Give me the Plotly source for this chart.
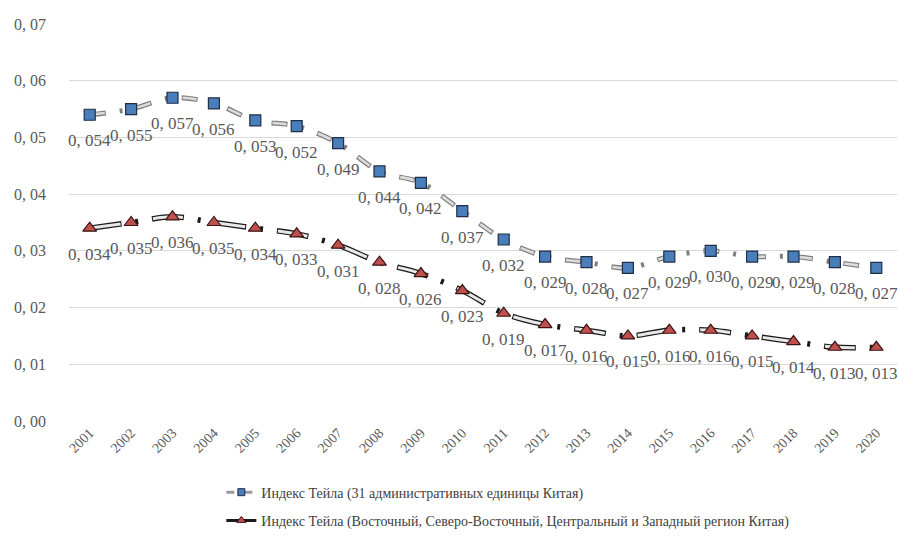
import plotly.graph_objects as go

years = [str(y) for y in range(2001, 2021)]
theil_31 = [0.054, 0.055, 0.057, 0.056, 0.053, 0.052, 0.049, 0.044, 0.042, 0.037,
            0.032, 0.029, 0.028, 0.027, 0.029, 0.030, 0.029, 0.029, 0.028, 0.027]
theil_reg = [0.034, 0.035, 0.036, 0.035, 0.034, 0.033, 0.031, 0.028, 0.026, 0.023,
             0.019, 0.017, 0.016, 0.015, 0.016, 0.016, 0.015, 0.014, 0.013, 0.013]
name_31 = "Индекс Тейла (31 административных единицы Китая)"
name_reg = "Индекс Тейла (Восточный, Северо-Восточный, Центральный и Западный регион Китая)"
y_ticks = [0.0, 0.01, 0.02, 0.03, 0.04, 0.05, 0.06, 0.07]
y_ticktext = ["0, 00", "0, 01", "0, 02", "0, 03", "0, 04", "0, 05", "0, 06", "0, 07"]


def lab(v):
    return "0, %03d" % round(v * 1000)


SERIF = "Times New Roman, Liberation Serif, DejaVu Serif, serif"
TXT = "#595959"

fig = go.Figure()

# series 1: compound grey long-dash-dot line
fig.add_trace(go.Scatter(x=years, y=theil_31, mode="lines", showlegend=False, hoverinfo="skip",
                         line=dict(color="#7f7f7f", width=5, dash="16px,14px,3px,14px", shape="spline")))
fig.add_trace(go.Scatter(x=years, y=theil_31, mode="lines", showlegend=False, hoverinfo="skip",
                         line=dict(color="#dcdcdc", width=2.6, dash="0px,1px,14px,32px", shape="spline")))
# series 2: compound black long-dash-dot line
fig.add_trace(go.Scatter(x=years, y=theil_reg, mode="lines", showlegend=False, hoverinfo="skip",
                         line=dict(color="#1a1a1a", width=5.5, dash="32px,14px,3px,14px", shape="spline")))
fig.add_trace(go.Scatter(x=years, y=theil_reg, mode="lines", showlegend=False, hoverinfo="skip",
                         line=dict(color="#e8e8e8", width=3, dash="0px,1px,30px,32px", shape="spline")))

# markers
fig.add_trace(go.Scatter(x=years, y=theil_31, mode="markers", showlegend=False,
                         marker=dict(symbol="square", size=11, color="#4a7ebb",
                                     line=dict(color="#1f2f45", width=1.2))))
fig.add_trace(go.Scatter(x=years, y=theil_reg, mode="markers", showlegend=False,
                         marker=dict(symbol="triangle-up", size=12, color="#c0504d",
                                     line=dict(color="#3a1515", width=1.2))))

# legend entries
fig.add_trace(go.Scatter(x=[None], y=[None], mode="lines+markers", name=name_31, legendgroup="a",
                         line=dict(color="#9a9a9a", width=3, dash="8px,4px,2px,4px"),
                         marker=dict(symbol="square", size=7, color="#4a7ebb",
                                     line=dict(color="#1f2f45", width=1))))
fig.add_trace(go.Scatter(x=[None], y=[None], mode="lines+markers", name=name_reg, legendgroup="b",
                         line=dict(color="#1a1a1a", width=3),
                         marker=dict(symbol="triangle-up", size=8, color="#c0504d",
                                     line=dict(color="#3a1515", width=1))))

annotations = []
for i, v in enumerate(theil_31):
    annotations.append(dict(x=i, y=v, xref="x", yref="y", text=lab(v), showarrow=False, yshift=-26,
                            font=dict(family=SERIF, size=17, color=TXT)))
for i, v in enumerate(theil_reg):
    annotations.append(dict(x=i, y=v, xref="x", yref="y", text=lab(v), showarrow=False, yshift=-26,
                            font=dict(family=SERIF, size=17, color=TXT)))

fig.update_layout(
    width=899, height=541,
    margin=dict(l=69, r=2, t=24, b=120),
    plot_bgcolor="white", paper_bgcolor="white",
    font=dict(family=SERIF, color=TXT),
    annotations=annotations,
    xaxis=dict(type="category", range=[-0.5, 19.5], tickangle=-45, showgrid=False, automargin=False,
               showline=False, ticks="", tickfont=dict(family=SERIF, size=14, color=TXT)),
    yaxis=dict(range=[0, 0.07], tickvals=y_ticks, ticktext=y_ticktext, showgrid=True, automargin=False,
               gridcolor="#d9d9d9", gridwidth=1, zeroline=False, showline=False, ticks="",
               ticklabelstandoff=22,
               tickfont=dict(family=SERIF, size=16, color=TXT)),
    legend=dict(x=0.184, y=-0.14, xanchor="left", yanchor="top", orientation="v",
                tracegroupgap=7, font=dict(family=SERIF, size=14, color="#404040"),
                bgcolor="rgba(0,0,0,0)"),
    showlegend=True,
)

fig.write_html("out.html", config={"displayModeBar": False},
               post_script="document.body.style.margin='0';document.body.style.overflow='hidden';")
